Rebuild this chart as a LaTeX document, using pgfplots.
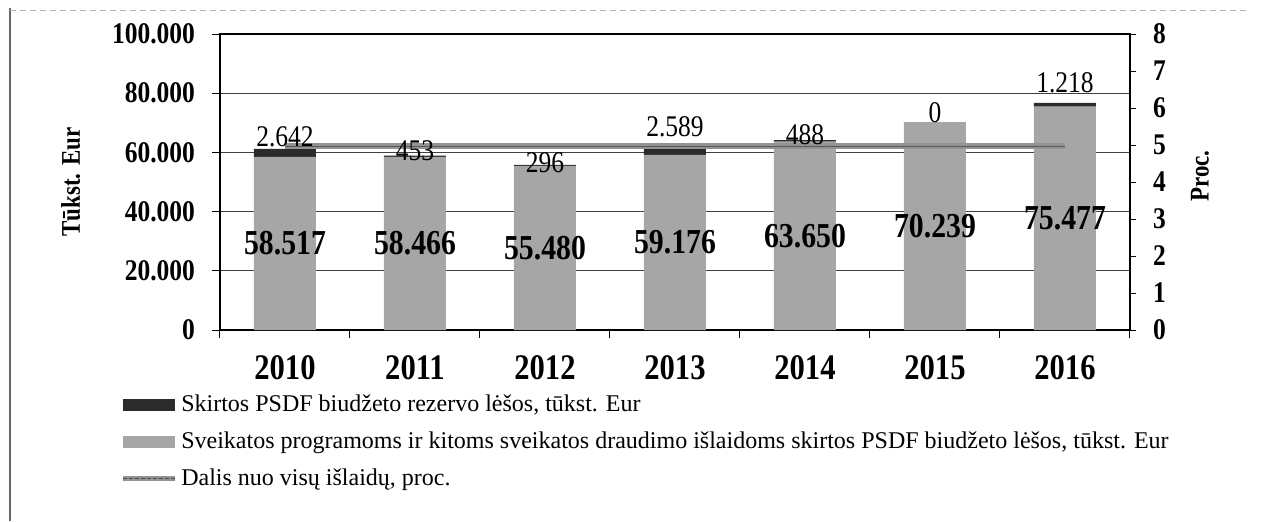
\documentclass[border=0pt]{standalone}
\usepackage{pgfplots}
\pgfplotsset{compat=1.18}
\usepackage{pgfplotstable}
\usepackage{fontspec}
\setmainfont{Liberation Serif}[FakeStretch=0.85]
\newfontfamily\legendfont{Liberation Serif}

\definecolor{bargray}{HTML}{A6A6A6}
\definecolor{bardark}{HTML}{2B2B2B}
\definecolor{linegray}{HTML}{939393}

\pgfplotstableread{
x grey dark lab proc
0 58517 2642 65300 4.97
1 58466 453 60600 4.97
2 55480 296 56600 4.97
3 59176 2589 68700 4.97
4 63650 488 66000 4.97
5 70239 0 73400 4.97
6 75477 1218 83500 4.97
}\data

\pgfplotsset{
  common/.style={
    scale only axis, width=455pt, height=148pt,
    xmin=-0.5, xmax=6.5,
    /pgf/number format/fixed,
    /pgf/number format/precision=0,
    /pgf/number format/1000 sep={.},
    /pgf/number format/assume math mode=true,
  },
  tickfont/.style={font=\fontsize{15}{15}\selectfont\bfseries},
}

\begin{document}
\begin{tikzpicture}
\begin{axis}[common,
  ymin=0, ymax=100000, ytick={0,20000,...,100000}, scaled y ticks=false,
  ybar stacked, bar width=31pt,
  ytick pos=left, xtick pos=bottom,
  tick align=outside, major tick length=4pt, minor tick length=4pt,
  xtick={0,...,6}, xticklabels={2010,2011,2012,2013,2014,2015,2016},
  minor xtick={-0.5,0.5,...,6.5},
  major x tick style={draw=none},
  tick style={black, line width=0.5pt},
  ymajorgrids, grid style={black!75, line width=0.5pt},
  axis line style={black, line width=0.6pt},
  yticklabel style={tickfont, xshift=-5pt},
  xticklabel style={font=\fontsize{18}{18}\selectfont\bfseries, anchor=center, yshift=-15pt},
  ylabel={Tūkst. Eur},
  ylabel style={font=\fontsize{13.5}{13.5}\selectfont\bfseries, at={(axis description cs:-0.164,0.5)}, anchor=center},
  reverse legend,
  legend style={at={(axis description cs:-0.11,-0.205)}, anchor=north west, draw=none, fill=none,
    inner sep=0pt, font=\legendfont\fontsize{12}{14.5}\selectfont, row sep=4.5pt},
  legend cell align=left,
]
\addlegendimage{legend image code/.code={
  \draw[linegray, line width=2.5pt] (0pt,0pt) -- (26pt,0pt);
  \draw[black!70, line width=0.6pt, dash pattern=on 2pt off 1pt] (0pt,0pt) -- (26pt,0pt);}}
\addlegendentry{Dalis nuo visų išlaidų, proc.}
\addplot[fill=bargray, draw=none,
  legend image code/.code={\fill[bargray] (0pt,-3pt) rectangle (26pt,3pt);}]
  table[x=x, y=grey]{\data};
\addlegendentry{Sveikatos programoms ir kitoms sveikatos draudimo išlaidoms skirtos PSDF biudžeto lėšos, tūkst. Eur}
\addplot[fill=bardark, draw=none,
  legend image code/.code={\fill[bardark] (0pt,-3pt) rectangle (26pt,3pt);}]
  table[x=x, y=dark]{\data};
\addlegendentry{Skirtos PSDF biudžeto rezervo lėšos, tūkst. Eur}
\end{axis}

\begin{axis}[common,
  ymin=0, ymax=8, ytick={0,...,8},
  axis y line*=right, axis x line=none,
  tick align=outside, major tick length=3pt,
  tick style={black, line width=0.5pt},
  axis line style={black, line width=0.6pt},
  yticklabel style={tickfont, xshift=5pt},
  ylabel={Proc.},
  ylabel style={font=\fontsize{13.5}{13.5}\selectfont\bfseries, at={(axis description cs:1.077,0.52)}, anchor=center},
]
\addplot[linegray, line width=3pt] table[x=x, y=proc]{\data};
\addplot[black!65, line width=0.6pt] table[x=x, y=proc]{\data};
\end{axis}

\begin{axis}[common, ymin=0, ymax=100000, hide axis]
\addplot[only marks, mark=none, nodes near coords, point meta=explicit,
  nodes near coords style={font=\fontsize{17.5}{17.5}\selectfont\bfseries, anchor=center, black}]
  table[x=x, y expr=\thisrow{grey}/2, meta=grey]{\data};
\addplot[only marks, mark=none, nodes near coords, point meta=explicit,
  nodes near coords style={font=\fontsize{15}{15}\selectfont, anchor=center, black}]
  table[x=x, y=lab, meta=dark]{\data};
\end{axis}

\draw[black!60, line width=0.6pt] (-105pt,161pt) -- (-105pt,-95.5pt);
\draw[black!30, line width=0.5pt, dash pattern=on 3pt off 2pt] (-105pt,160pt) -- (515pt,160pt);

\pgfresetboundingbox
\path[use as bounding box] (-110pt,-95.5pt) rectangle (527.5pt,165pt);
\end{tikzpicture}
\end{document}
